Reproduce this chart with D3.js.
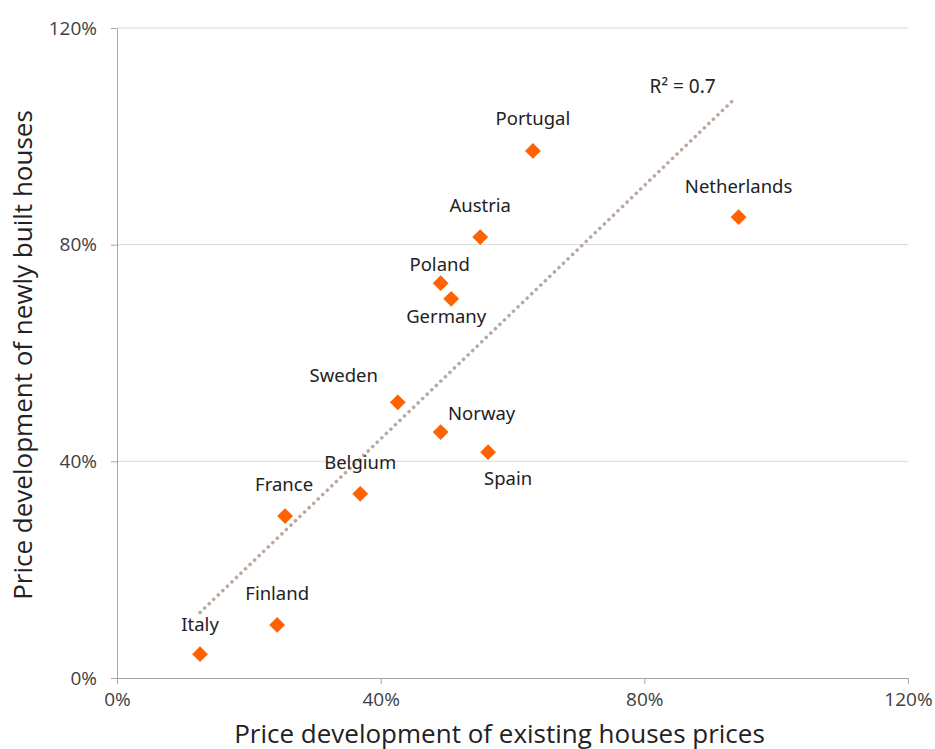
<!DOCTYPE html>
<html>
<head>
<meta charset="utf-8">
<script src="https://cdn.jsdelivr.net/npm/d3@7"></script>
<style>
  body { margin: 0; background: #fff; }
  svg { display: block; }
</style>
</head>
<body>
<svg width="935" height="749"></svg>
<script>
// data (percent)
let countries = ["Italy", "Finland", "France", "Belgium", "Sweden", "Norway", "Spain", "Poland", "Germany", "Austria", "Portugal", "Netherlands"];
let existing = [12.6, 24.3, 25.5, 36.9, 42.6, 49.1, 56.3, 49.1, 50.7, 55.1, 63.1, 94.3];
let newBuilt = [4.4, 9.8, 29.9, 34.0, 50.9, 45.4, 41.7, 72.9, 70.0, 81.4, 97.3, 85.1];
let ticks = [0, 40, 80, 120];
let r2Label = "R² = 0.7";

// label offsets from each point (px)
let labelPos = {
  Italy: [0, -31], Finland: [0, -32], France: [-1, -33], Belgium: [0, -32],
  Sweden: [-54, -28], Norway: [41, -20], Spain: [20, 25], Poland: [-1, -20],
  Germany: [-5, 17], Austria: [0, -33], Portugal: [0, -33], Netherlands: [0, -32]
};

let svg = d3.select("svg");
let plotL = 117, plotR = 908, plotT = 28, plotB = 678;

let x = d3.scaleLinear().domain([0, 120]).range([plotL, plotR]);
let y = d3.scaleLinear().domain([0, 120]).range([plotB, plotT]);

let data = countries.map((c, i) => ({ name: c, x: existing[i], y: newBuilt[i] }));

//gridlines
svg.append("g")
  .selectAll("line")
  .data(ticks.filter(t => t > 0))
  .enter()
  .append("line")
  .attr("x1", plotL)
  .attr("x2", plotR)
  .attr("y1", d => y(d))
  .attr("y2", d => y(d))
  .attr("stroke", "#d9d9d9")
  .attr("stroke-width", 1);

//axes
let xAxis = svg.append("g")
  .attr("transform", "translate(0," + plotB + ")")
  .call(d3.axisBottom(x).tickValues(ticks).tickFormat(d => d + "%").tickSize(6).tickSizeOuter(0));
let yAxis = svg.append("g")
  .attr("transform", "translate(" + plotL + ",0)")
  .call(d3.axisLeft(y).tickValues(ticks).tickFormat(d => d + "%").tickSize(6).tickSizeOuter(0));

[xAxis, yAxis].forEach(a => {
  a.select(".domain").attr("stroke", "#a6a6a6");
  a.selectAll(".tick line").attr("stroke", "#a6a6a6");
  a.selectAll(".tick text")
    .attr("fill", "#404040")
    .style("font-family", "'Open Sans', sans-serif")
    .style("font-size", "19px");
});
xAxis.selectAll(".tick text").attr("y", 12).attr("dy", "0.85em");
yAxis.selectAll(".tick text").attr("x", -20);

//axis titles
svg.append("text")
  .attr("x", (plotL + plotR) / 2 - 13)
  .attr("y", 743)
  .attr("text-anchor", "middle")
  .attr("fill", "#222")
  .style("font-family", "'Open Sans', sans-serif")
  .style("font-size", "26px")
  .text("Price development of existing houses prices");

svg.append("text")
  .attr("transform", "translate(32,355) rotate(-90)")
  .attr("text-anchor", "middle")
  .attr("fill", "#222")
  .style("font-family", "'Open Sans', sans-serif")
  .style("font-size", "26px")
  .text("Price development of newly built houses");

//trend line (least squares)
let mx = d3.mean(existing), my = d3.mean(newBuilt);
let slope = d3.sum(existing, (v, i) => (v - mx) * (newBuilt[i] - my)) / d3.sum(existing, v => (v - mx) * (v - mx));
let icpt = my - slope * mx;
let tx = d3.extent(existing);
svg.append("line")
  .attr("x1", x(tx[0]))
  .attr("y1", y(icpt + slope * tx[0]))
  .attr("x2", x(tx[1] - 0.4))
  .attr("y2", y(icpt + slope * (tx[1] - 0.4)))
  .attr("stroke", "#b9a9a0")
  .attr("stroke-width", 3.5)
  .attr("stroke-linecap", "round")
  .attr("stroke-dasharray", "0.1 6.2");

svg.append("text")
  .attr("x", x(tx[1]) - 56)
  .attr("y", y(icpt + slope * tx[1]) - 2)
  .attr("text-anchor", "middle")
  .attr("fill", "#222")
  .style("font-family", "'Noto Sans', sans-serif")
  .style("font-size", "19px")
  .text(r2Label);

//points
svg.append("g")
  .selectAll("path")
  .data(data)
  .enter()
  .append("path")
  .attr("d", d3.symbol().type(d3.symbolSquare).size(125))
  .attr("transform", d => "translate(" + x(d.x) + "," + y(d.y) + ") rotate(45)")
  .attr("fill", "#ff6200");

//labels
svg.append("g")
  .selectAll("text")
  .data(data)
  .enter()
  .append("text")
  .attr("x", d => x(d.x) + labelPos[d.name][0])
  .attr("y", d => y(d.y) + labelPos[d.name][1])
  .attr("text-anchor", "middle")
  .attr("dominant-baseline", "central")
  .attr("fill", "#222")
  .style("font-family", "'Noto Sans', sans-serif")
  .style("font-size", "18.5px")
  .text(d => d.name);
</script>
</body>
</html>
